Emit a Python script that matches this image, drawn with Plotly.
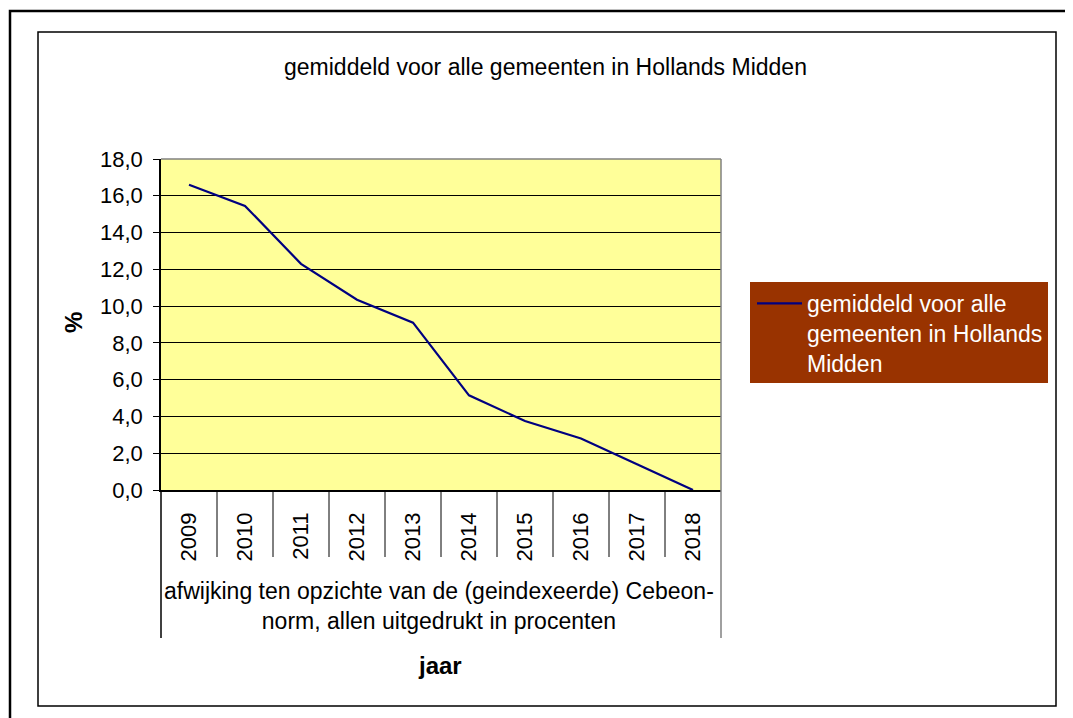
import plotly.graph_objects as go

years = ["2009", "2010", "2011", "2012", "2013", "2014", "2015", "2016", "2017", "2018"]
values = [16.6, 15.45, 12.3, 10.35, 9.1, 5.15, 3.75, 2.8, 1.4, 0.0]
series_name = "gemiddeld voor alle<br>gemeenten in Hollands<br>Midden"
title_text = "gemiddeld voor alle gemeenten in Hollands Midden"
group_label = "afwijking ten opzichte van de (geindexeerde) Cebeon-<br>norm, allen uitgedrukt in procenten"
x_title = "jaar"
y_title = "%"

OFF = 8  # page body margin
W, H = 1073 - OFF, 718 - OFF
PL, PR, PT, PB = 161, 721, 159, 490  # plot area in page pixels
FONT = "Liberation Sans, Arial, sans-serif"
FS = 23


def px(x):
    return (x - PL) / (PR - PL)


def py(y):
    return (PB - y) / (PB - PT)


fig = go.Figure()
fig.add_trace(go.Scatter(x=years, y=values, mode="lines", name=series_name,
                         line=dict(color="#000080", width=2.2)))

shapes = []
shapes.append(dict(type="rect", xref="paper", yref="paper", x0=px(10), x1=px(1090), y0=py(730), y1=py(11),
                   line=dict(color="black", width=2.5), layer="below"))
shapes.append(dict(type="rect", xref="paper", yref="paper", x0=px(38), x1=px(1056), y0=py(706), y1=py(32),
                   line=dict(color="black", width=1.5), layer="below"))
shapes.append(dict(type="line", xref="paper", yref="paper", x0=0, x1=1, y0=1, y1=1,
                   line=dict(color="#808080", width=1.5)))
shapes.append(dict(type="line", xref="paper", yref="paper", x0=1, x1=1, y0=py(638), y1=1,
                   line=dict(color="#808080", width=1.5)))
n = len(years)
for i in range(n):
    if i == 0:
        shapes.append(dict(type="line", xref="paper", yref="paper", x0=0, x1=0, y0=py(638), y1=0,
                           line=dict(color="black", width=1.5)))
    else:
        shapes.append(dict(type="line", xref="paper", yref="paper", x0=i / n, x1=i / n, y0=py(557), y1=0,
                           line=dict(color="black", width=1)))
shapes.append(dict(type="rect", xref="paper", yref="paper", x0=px(750), x1=px(1048), y0=py(383), y1=py(282),
                   fillcolor="#993300", line=dict(width=0), layer="below"))

annotations = [
    dict(text=title_text, xref="paper", yref="paper", x=px(545), y=py(67), showarrow=False,
         font=dict(size=FS, color="black", family=FONT), xanchor="center", yanchor="middle"),
    dict(text=group_label, xref="paper", yref="paper", x=px(439), y=py(606), showarrow=False,
         font=dict(size=FS, color="black", family=FONT), xanchor="center", yanchor="middle"),
    dict(text="<b>" + x_title + "</b>", xref="paper", yref="paper", x=px(440), y=py(665), showarrow=False,
         font=dict(size=24, color="black", family=FONT), xanchor="center", yanchor="middle"),
    dict(text="<b>" + y_title + "</b>", xref="paper", yref="paper", x=px(73), y=py(323), showarrow=False,
         textangle=-90, font=dict(size=24, color="black", family=FONT), xanchor="center", yanchor="middle"),
]

fig.update_layout(
    width=W, height=H, autosize=False,
    margin=dict(l=PL - OFF, r=W - (PR - OFF), t=PT - OFF, b=H - (PB - OFF), pad=0),
    paper_bgcolor="white", plot_bgcolor="#FFFF99",
    separators=",.",
    font=dict(family=FONT, size=FS, color="black"),
    showlegend=True,
    legend=dict(x=px(752), y=py(282), xanchor="left", yanchor="top", bgcolor="rgba(0,0,0,0)",
                borderwidth=0, font=dict(color="white", size=FS, family=FONT), valign="top",
                itemwidth=45),
    shapes=shapes,
    annotations=annotations,
    xaxis=dict(type="category", categoryorder="array", categoryarray=years, range=[-0.5, n - 0.5],
               showgrid=False, zeroline=False, showline=True, linecolor="black", linewidth=1.5,
               ticks="", tickangle=-90, tickfont=dict(size=22, family=FONT, color="black"),
               ticklabelstandoff=12),
    yaxis=dict(range=[0, 18], dtick=2, tickformat=".1f", showgrid=True, gridcolor="black", gridwidth=1,
               zeroline=False, showline=True, linecolor="black", linewidth=1.5,
               ticks="outside", ticklen=6, tickcolor="black", tickwidth=1,
               tickfont=dict(size=22, family=FONT, color="black"), ticklabelstandoff=6),
)

fig.write_html("out.html")
